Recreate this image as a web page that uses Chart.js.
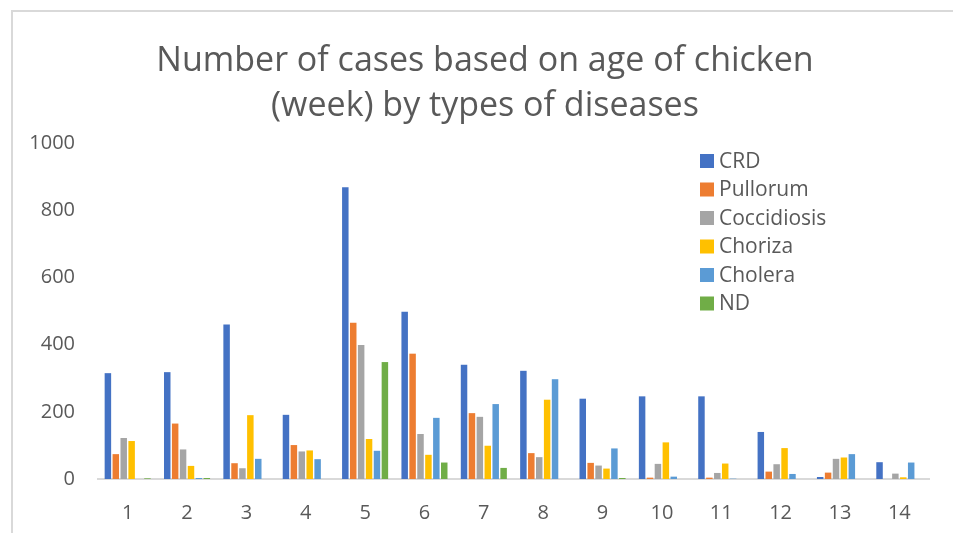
<!DOCTYPE html>
<html>
<head>
<meta charset="utf-8">
<script src="https://cdn.jsdelivr.net/npm/chart.js@4.4.1/dist/chart.umd.min.js"></script>
<style>
    html, body { margin: 0; padding: 0; background: #fff; overflow: hidden; }
    #wrap { position: relative; width: 953px; height: 533px; overflow: hidden; }
    #frame { position: absolute; left: 11px; top: 10px; width: 960px; height: 540px;
             border-left: 2px solid #d9d9d9; border-top: 2px solid #d9d9d9; }
    canvas { position: absolute; left: 0; top: 0; }
</style>
</head>
<body>
<div id="wrap">
    <div id="frame"></div>
    <canvas id="bar-chart" width="953" height="533"></canvas>
</div>
<script>
// weeks (age of chicken)
var weeks = ['1', '2', '3', '4', '5', '6', '7', '8', '9', '10', '11', '12', '13', '14'];

// cases per disease
var crd         = [315, 318, 460, 191, 868, 498, 340, 322, 239, 246, 246, 140, 6, 50];
var pullorum    = [74, 165, 47, 101, 465, 373, 196, 77, 48, 4, 4, 22, 19, 0];
var coccidiosis = [122, 88, 32, 82, 399, 134, 185, 65, 40, 45, 18, 44, 60, 16];
var choriza     = [113, 39, 190, 85, 119, 72, 99, 236, 31, 109, 46, 92, 64, 5];
var cholera     = [0, 3, 60, 59, 84, 182, 223, 297, 91, 7, 1, 15, 74, 49];
var nd          = [2, 3, 0, 0, 348, 49, 33, 0, 3, 0, 0, 0, 0, 0];

var yTicks = [0, 200, 400, 600, 800, 1000];
var titleLines = ['Number of cases based on age of chicken', '(week) by types of diseases'];

var textGrey = '#595959';
var font = "'Open Sans', sans-serif";

function makeDataset(label, data, color) {
    return {
        label: label,
        data: data,
        backgroundColor: color,
        borderWidth: 0,
        barPercentage: 0.82,
        categoryPercentage: 0.8
    };
}

// title drawn centred a bit right of the canvas middle, like the original
var chartTitle = {
    id: 'chartTitle',
    afterDraw: function(chart) {
        var ctx = chart.ctx;
        ctx.save();
        ctx.font = '34px ' + font;
        ctx.fillStyle = textGrey;
        ctx.textAlign = 'center';
        ctx.textBaseline = 'middle';
        for (var i = 0; i < titleLines.length; i++) {
            ctx.fillText(titleLines[i], 485, 61 + i * 45);
        }
        ctx.restore();
    }
};

// legend drawn inside the plot, upper right
var insideLegend = {
    id: 'insideLegend',
    afterDraw: function(chart) {
        var ctx = chart.ctx;
        var sets = chart.data.datasets;
        ctx.save();
        ctx.font = '21px ' + font;
        ctx.textBaseline = 'middle';
        for (var i = 0; i < sets.length; i++) {
            var y = 161 + i * 28.5;
            ctx.fillStyle = sets[i].backgroundColor;
            ctx.fillRect(700, y - 7, 14, 14);
            ctx.fillStyle = textGrey;
            ctx.fillText(sets[i].label, 719, y + 1);
        }
        ctx.restore();
    }
};

var ctx = document.getElementById('bar-chart');
var chart = new Chart(ctx, {
    type: 'bar',
    data: {
        labels: weeks,
        datasets: [
            makeDataset('CRD', crd, '#4472C4'),
            makeDataset('Pullorum', pullorum, '#ED7D31'),
            makeDataset('Coccidiosis', coccidiosis, '#A5A5A5'),
            makeDataset('Choriza', choriza, '#FFC000'),
            makeDataset('Cholera', cholera, '#5B9BD5'),
            makeDataset('ND', nd, '#70AD47')
        ]
    },
    options: {
        responsive: false,
        animation: false,
        layout: { padding: { left: 0, right: 24, top: 143, bottom: 0 } },
        plugins: {
            legend: { display: false },
            tooltip: { enabled: false },
            title: { display: false }
        },
        scales: {
            x: {
                grid: { display: false, drawTicks: false },
                border: { color: '#d9d9d9', width: 2 },
                ticks: { color: textGrey, font: { family: font, size: 20 }, padding: 22 },
                afterFit: function(axis) { axis.height = 54; }
            },
            y: {
                min: 0,
                max: 1000,
                afterBuildTicks: function(axis) {
                    axis.ticks = yTicks.map(function(v) { return { value: v }; });
                },
                grid: { display: false, drawTicks: false },
                border: { display: false },
                ticks: {
                    color: textGrey,
                    font: { family: font, size: 20 },
                    padding: 23,
                    callback: function(value) { return String(value); }
                },
                afterFit: function(axis) { axis.width = 98; }
            }
        }
    },
    plugins: [chartTitle, insideLegend]
});
</script>
</body>
</html>
